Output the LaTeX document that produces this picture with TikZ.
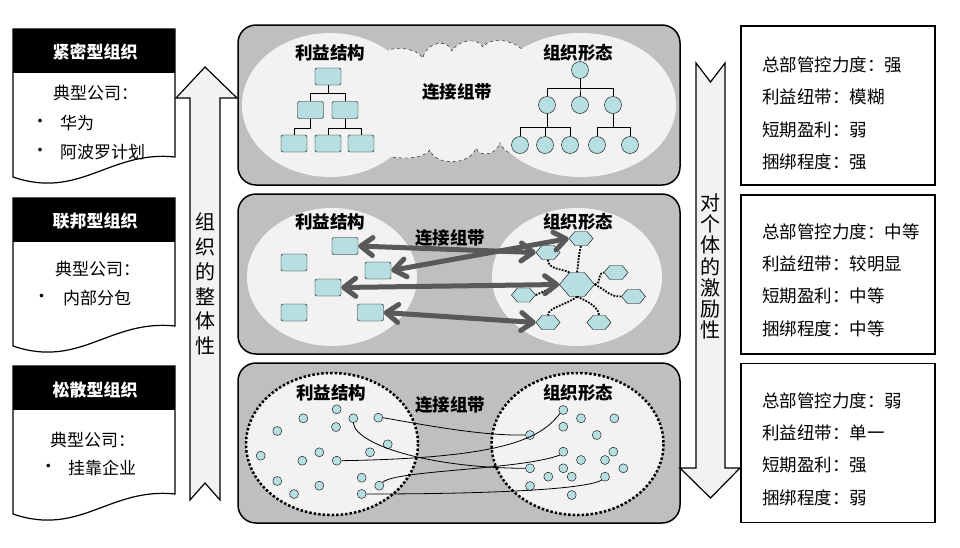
\documentclass[tikz,border=0pt]{standalone}
\usepackage{fontspec}
\setmainfont{Noto Sans CJK SC}
\usetikzlibrary{arrows.meta,shapes.symbols,shapes.geometric}

\definecolor{panelgray}{RGB}{191,191,191}
\definecolor{pale}{RGB}{242,242,242}
\definecolor{cellfill}{RGB}{183,222,225}
\definecolor{bandgray}{RGB}{89,89,89}

\begin{document}
\begin{tikzpicture}[x=1pt,y=-1pt,
  panel/.style={draw,line width=1.5pt,fill=panelgray,rounded corners=18pt},
  looseedge/.style={draw,fill=pale,line width=2.5pt,dash pattern=on 2.5pt off 2pt},
  profitbox/.style={draw,fill=cellfill,rounded corners=2pt,minimum width=26pt,minimum height=17pt,inner sep=0pt},
  orgnode/.style={circle,draw,fill=cellfill,minimum size=17pt,inner sep=0pt},
  hexcell/.style={signal,signal to=east and west,signal pointer angle=100,draw,fill=cellfill,minimum width=24pt,minimum height=14pt,inner sep=0pt},
  seed/.style={circle,draw,fill=cellfill,minimum size=9pt,inner sep=0pt},
  tie/.style={draw=bandgray,line width=5pt,line cap=round,<->,>={Straight Barb[round,length=12pt,width=18pt]}},
  link/.style={line width=1.8pt,dash pattern=on 1.8pt off 1.3pt},
  thread/.style={line width=0.8pt},
  labeltext/.style={font=\fontsize{17.5pt}{20pt}\selectfont\bfseries,inner sep=0pt},
  headtext/.style={font=\fontsize{17pt}{20pt}\selectfont\bfseries,text=white,inner sep=0pt},
  bodytext/.style={font=\fontsize{17pt}{20pt}\selectfont,inner sep=0pt},
  infotext/.style={font=\fontsize{17.5pt}{32.3pt}\selectfont,align=left,anchor=west,inner sep=0pt},
  infobox/.style={draw,line width=1.5pt,minimum width=194pt,minimum height=159pt},
  bigarrow/.style={draw,line width=1.2pt,fill=pale,line join=miter}
]
\useasboundingbox (0,0) rectangle (960,547);

% left: three document boxes
\draw[line width=1.2pt,fill=white] (13,29) -- (175,29) -- (175,157) .. controls (110,150) and (80,200) .. (13,177) -- cycle;
\fill (13,29) rectangle (175,73);
\node[headtext] (head1) at (95,52) {紧密型组织};
\node[bodytext,anchor=west] (firm1) at (53,93) {典型公司：};
\node[bodytext] (mark1a) at (40,123) {•};
\node[bodytext,anchor=west] (case1a) at (60,123) {华为};
\node[bodytext] (mark1b) at (40,152) {•};
\node[bodytext,anchor=west] (case1b) at (60,152) {阿波罗计划};

\draw[line width=1.2pt,fill=white] (13,198) -- (175,198) -- (175,326) .. controls (110,319) and (80,369) .. (13,346) -- cycle;
\fill (13,198) rectangle (175,242);
\node[headtext] (head2) at (95,221) {联邦型组织};
\node[bodytext,anchor=west] (firm2) at (55,269) {典型公司：};
\node[bodytext] (mark2a) at (41.7,298) {•};
\node[bodytext,anchor=west] (case2a) at (63,298) {内部分包};

\draw[line width=1.2pt,fill=white] (13,366) -- (175,366) -- (175,494) .. controls (110,487) and (80,537) .. (13,514) -- cycle;
\fill (13,366) rectangle (175,410);
\node[headtext] (head3) at (95,390) {松散型组织};
\node[bodytext,anchor=west] (firm3) at (50,440) {典型公司：};
\node[bodytext] (mark3a) at (48.3,468) {•};
\node[bodytext,anchor=west] (case3a) at (68,468) {挂靠企业};

% panel 1
\draw[panel] (238,25) rectangle (680,185);
\path[draw,dashed,fill=pale] (370,60) .. controls (385,45) and (413,45) .. (423,58)
  .. controls (426,42) and (448,38) .. (452,51)
  .. controls (458,40) and (478,37) .. (483,47)
  .. controls (490,36) and (520,38) .. (530,60) -- (540,145)
  .. controls (530,160) and (505,158) .. (500,142)
  .. controls (497,155) and (480,158) .. (476,148)
  .. controls (470,166) and (435,166) .. (430,150)
  .. controls (420,162) and (385,160) .. (370,148) -- cycle;
\fill[pale] (330,105) ellipse [x radius=88, y radius=72];
\fill[pale] (581,105) ellipse [x radius=95, y radius=72];
\node[labeltext] (gain1) at (330,53) {利益结构};
\node[labeltext] (form1) at (578,53) {组织形态};
\node[labeltext] (band1) at (457,92) {连接组带};
\node[profitbox] (p0) at (328,76.5) {};
\node[profitbox] (p1) at (310.5,110) {};
\node[profitbox] (p2) at (345,110) {};
\node[profitbox] (p3) at (294,143.5) {};
\node[profitbox] (p4) at (328,143.5) {};
\node[profitbox] (p5) at (361,143.5) {};
\draw (p0.south) -- ++(0,8) -| (p1.north);
\draw (p0.south) -- ++(0,8) -| (p2.north);
\draw (p1.south) -- ++(0,9) -| (p3.north);
\draw (p2.south) -- ++(0,9) -| (p4.north);
\draw (p2.south) -- ++(0,9) -| (p5.north);
\node[orgnode] (o0) at (580,70) {};
\node[orgnode] (o1) at (547,105) {};
\node[orgnode] (o2) at (580,105) {};
\node[orgnode] (o3) at (613,105) {};
\node[orgnode] (o4) at (520,145) {};
\node[orgnode] (o5) at (545,145) {};
\node[orgnode] (o6) at (570,145) {};
\node[orgnode] (o7) at (597,145) {};
\node[orgnode] (o8) at (630,145) {};
\draw (o0.south) -- ++(0,9.5) -| (o1.north);
\draw (o0.south) -- ++(0,9.5) -| (o2.north);
\draw (o0.south) -- ++(0,9.5) -| (o3.north);
\draw (o1.south) -- ++(0,13.5) -| (o4.north);
\draw (o1.south) -- ++(0,13.5) -| (o5.north);
\draw (o1.south) -- ++(0,13.5) -| (o6.north);
\draw (o3.south) -- ++(0,13.5) -| (o7.north);
\draw (o3.south) -- ++(0,13.5) -| (o8.north);

% panel 2
\draw[panel] (238,194) rectangle (680,354);
\fill[pale] (332,277) ellipse [x radius=85, y radius=69];
\fill[pale] (577,277) ellipse [x radius=85, y radius=69];
\node[labeltext] (gain2) at (330,222) {利益结构};
\node[labeltext] (form2) at (578,222) {组织形态};
\node[labeltext] (band2) at (450,238) {连接组带};
\node[profitbox] (q1) at (345,246) {};
\node[profitbox] (q2) at (294,262.5) {};
\node[profitbox] (q3) at (378,270.5) {};
\node[profitbox] (q4) at (328,287.5) {};
\node[profitbox] (q5) at (294,312.5) {};
\node[profitbox] (q6) at (370.5,312.5) {};
\node[hexcell] (x1) at (581,238.5) {};
\node[hexcell] (x2) at (548,252.5) {};
\node[hexcell] (x3) at (616,272.5) {};
\node[hexcell,minimum width=35pt,minimum height=24pt] (xb) at (577,284.5) {};
\node[hexcell] (x4) at (523.5,295) {};
\node[hexcell] (x5) at (633.5,296.5) {};
\node[hexcell] (x6) at (548,322.5) {};
\node[hexcell] (x7) at (599,322.5) {};
\draw[link] (xb.north) .. controls +(2,-12) and +(-3,12) .. (x1.south);
\draw[link] (xb.north west) .. controls +(-8,-4) and +(0,10) .. (x2.south);
\draw[link] (xb.east) .. controls +(8,-2) and +(-8,2) .. (x3.west);
\draw[link] (xb.east) .. controls +(15,8) and +(-12,0) .. (x5.west);
\draw[link] (xb.south) .. controls +(-10,8) and +(0,-8) .. (x6.north);
\draw[link] (xb.south) .. controls +(10,4) and +(0,-8) .. (x7.north);
\draw[link] (x4.east) -- (xb.west);
\draw[tie] (q1.east) -- (x2.west);
\draw[tie] (q3.east) -- (x1.west);
\draw[tie] (q4.east) -- (xb.west);
\draw[tie] (q6.east) -- (x6.west);

% panel 3
\draw[panel] (238,363) rectangle (680,523);
\draw[looseedge] (332,444) ellipse [x radius=86, y radius=71];
\draw[looseedge] (577.5,444) ellipse [x radius=86, y radius=71];
\node[labeltext] (gain3) at (331,393) {利益结构};
\node[labeltext] (form3) at (578,393) {组织形态};
\node[labeltext] (band3) at (450,405) {连接组带};
\node[seed] (a1) at (336.7,409.3) {};
\node[seed] (a2) at (303.3,418.3) {};
\node[seed] (a3) at (353.3,418.3) {};
\node[seed] (a4) at (378.3,417.7) {};
\node[seed] (a5) at (277.3,431) {};
\node[seed] (a6) at (336,427) {};
\node[seed] (a7) at (387.7,444.3) {};
\node[seed] (a8) at (260.7,455.7) {};
\node[seed] (a9) at (319.3,452.3) {};
\node[seed] (a10) at (302.3,460.7) {};
\node[seed] (a11) at (370,452.3) {};
\node[seed] (a12) at (336.7,460.7) {};
\node[seed] (a13) at (277.3,481) {};
\node[seed] (a14) at (361.7,477.7) {};
\node[seed] (a15) at (379.3,485.7) {};
\node[seed] (a16) at (319.3,485.7) {};
\node[seed] (a17) at (294,494) {};
\node[seed] (a18) at (361.7,494) {};
\node[seed] (b1) at (563.3,410) {};
\node[seed] (b2) at (581,418.3) {};
\node[seed] (b3) at (614.3,418.3) {};
\node[seed] (b4) at (563.3,426.7) {};
\node[seed] (b5) at (530,435) {};
\node[seed] (b6) at (596.7,435) {};
\node[seed] (b7) at (563.3,451.7) {};
\node[seed] (b8) at (613.3,451.7) {};
\node[seed] (b9) at (581,460) {};
\node[seed] (b10) at (605,460) {};
\node[seed] (b11) at (530,468.3) {};
\node[seed] (b12) at (563.3,468.3) {};
\node[seed] (b13) at (623.3,468.3) {};
\node[seed] (b14) at (548.3,476.7) {};
\node[seed] (b15) at (571.7,476.7) {};
\node[seed] (b16) at (605,476.7) {};
\node[seed] (b17) at (530,486) {};
\node[seed] (b18) at (571.7,495) {};
\draw[thread] (a4.east) .. controls (420,424) and (480,436) .. (b5.west);
\draw[thread] (a12.east) .. controls (500,458) and (540,440) .. (b1.south west);
\draw[thread] (a3.south) .. controls (356,445) and (430,468) .. (b11.west);
\draw[thread] (a15.north east) .. controls (395,470) and (520,470) .. (b7.south west);
\draw[thread] (a18.east) .. controls (480,494) and (585,490) .. (b16.south west);

% the two wide arrows
\draw[bigarrow] (205,67) -- (237,98) -- (220,98) -- (220,500) -- (205,483) -- (190,500) -- (190,98) -- (176,98) -- cycle;
\node[font=\fontsize{20pt}{24.8pt}\selectfont,align=center,inner sep=0pt] (whole) at (205.5,284) {组\\织\\的\\整\\体\\性};
\draw[bigarrow] (696,63) -- (710.5,82) -- (725,63) -- (725,468) -- (740,468) -- (710.5,498) -- (680,468) -- (696,468) -- cycle;
\node[font=\fontsize{20pt}{21.2pt}\selectfont,align=center,inner sep=0pt] (spur) at (710.5,266.5) {对\\个\\体\\的\\激\\励\\性};

% right: three feature boxes
\node[infobox] (s1) at (838,105.5) {};
\node[infotext] (s1t) at (762,113.5) {总部管控力度：强\\利益纽带：模糊\\短期盈利：弱\\捆绑程度：强};
\node[infobox] (s2) at (838,274.5) {};
\node[infotext] (s2t) at (762,280) {总部管控力度：中等\\利益纽带：较明显\\短期盈利：中等\\捆绑程度：中等};
\node[infobox] (s3) at (838,443) {};
\node[infotext] (s3t) at (762,449) {总部管控力度：弱\\利益纽带：单一\\短期盈利：强\\捆绑程度：弱};
\end{tikzpicture}
\end{document}
